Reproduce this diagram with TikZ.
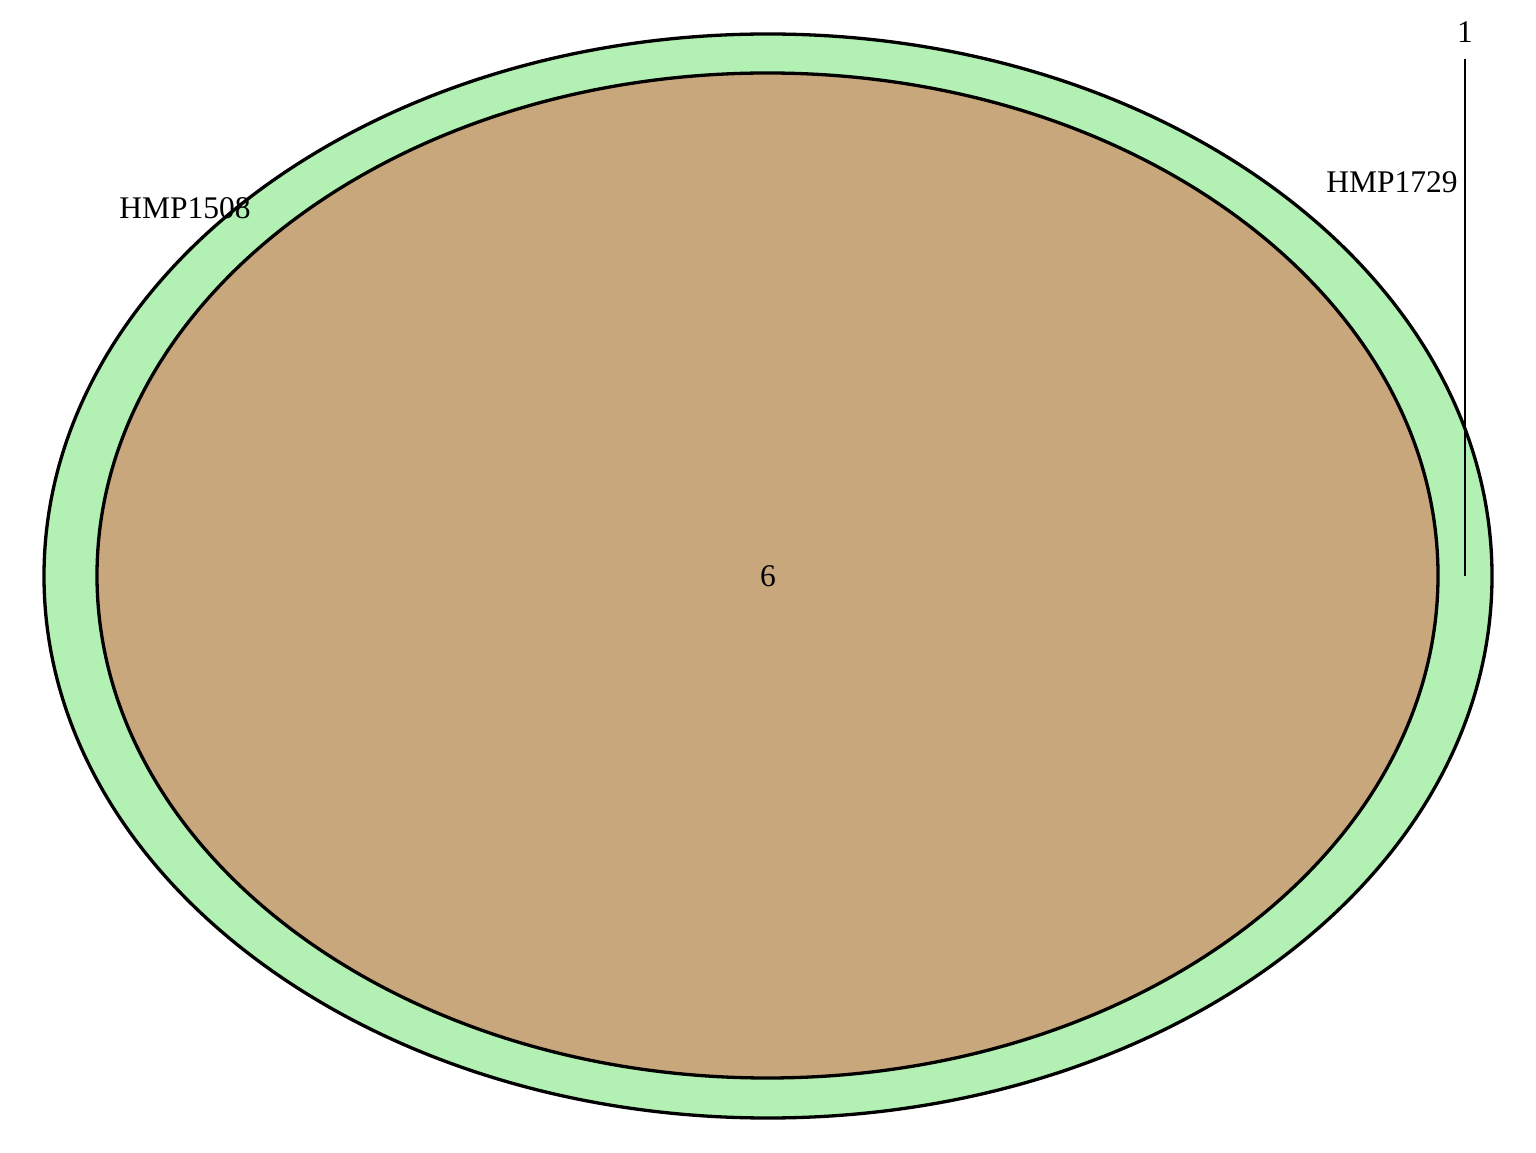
\documentclass[tikz,border=0pt]{standalone}
\usepackage{fontspec}
\setmainfont{Liberation Serif}
\definecolor{setgreen}{RGB}{179,240,179}
\definecolor{settan}{RGB}{201,167,124}
\begin{document}
\begin{tikzpicture}[x=1pt,y=1pt,
  setline/.style={draw=black,line width=3.3pt},
  lbl/.style={anchor=base,inner sep=0pt,font=\fontsize{31.5}{36}\selectfont},
  leader/.style={draw=black,line width=1.6pt}]
\useasboundingbox (0,0) rectangle (1536,1152);
\fill[setgreen] (768,576) ellipse [x radius=724,y radius=542];
\fill[settan] (767.5,576.5) ellipse [x radius=670.5,y radius=502.5];
\draw[setline] (768,576) ellipse [x radius=724,y radius=542];
\draw[setline] (767.5,576.5) ellipse [x radius=670.5,y radius=502.5];
\node[lbl] (a) at (185,933) {HMP1508};
\node[lbl] (b) at (1392,959) {HMP1729};
\node[lbl] (one) at (1465,1109) {1};
\node[lbl] (six) at (768,565) {6};
\coordinate (lt) at (1465,1093);
\coordinate (lb) at (1465,576);
\draw[leader] (lt) -- (lb);
\end{tikzpicture}
\end{document}
